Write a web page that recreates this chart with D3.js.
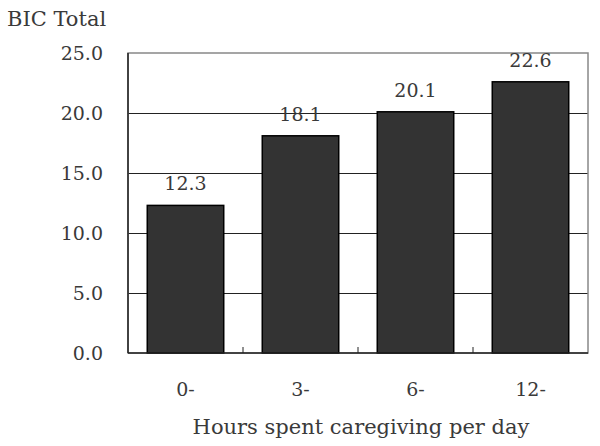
<!DOCTYPE html>
<html><head><meta charset="utf-8">
<script src="https://cdn.jsdelivr.net/npm/d3@7"></script>
<style>body{margin:0;background:#fff}text{font-family:"DejaVu Serif",serif;fill:#3a3a3a}</style>
</head><body><svg id="c" width="600" height="446"></svg>
<script>
const categories = ["0-","3-","6-","12-"];
const values = [12.3,18.1,20.1,22.6];
const yTicks = [0,5,10,15,20,25];
const yTitle = "BIC Total";
const xTitle = "Hours spent caregiving per day";

const svg = d3.select("#c");
const m = {l:128, r:588, t:53, b:353};
const fs = 19, ft = 21;
const x = d3.scaleBand().domain(categories).range([m.l,m.r]).paddingInner(0.335).paddingOuter(0.1675);
const y = d3.scaleLinear().domain([0,25]).range([m.b,m.t]);

// gridlines
svg.append("g").selectAll("line").data(yTicks.filter(d=>d>0&&d<25)).join("line")
  .attr("x1",m.l).attr("x2",m.r).attr("y1",d=>y(d)).attr("y2",d=>y(d))
  .attr("stroke","#222").attr("stroke-width",1).attr("shape-rendering","crispEdges");
// frame
svg.append("rect").attr("x",m.l).attr("y",m.t).attr("width",m.r-m.l).attr("height",m.b-m.t)
  .attr("fill","none").attr("stroke","#888").attr("stroke-width",1.5);
// bars
svg.append("g").selectAll("rect").data(values).join("rect")
  .attr("x",(d,i)=>x(categories[i])).attr("width",x.bandwidth())
  .attr("y",d=>y(d)).attr("height",d=>y(0)-y(d))
  .attr("fill","#333").attr("stroke","#000").attr("stroke-width",1.5);
// left and bottom axis lines
svg.append("line").attr("x1",m.l).attr("x2",m.l).attr("y1",m.t).attr("y2",m.b).attr("stroke","#222").attr("stroke-width",1.5);
svg.append("line").attr("x1",m.l).attr("x2",m.r).attr("y1",m.b).attr("y2",m.b).attr("stroke","#222").attr("stroke-width",1.5);
// x category ticks (inward) at band boundaries
svg.append("g").selectAll("line").data(d3.range(1,categories.length)).join("line")
  .attr("x1",i=>m.l+i*(m.r-m.l)/categories.length).attr("x2",i=>m.l+i*(m.r-m.l)/categories.length)
  .attr("y1",m.b).attr("y2",m.b-6).attr("stroke","#222");
// y tick labels
const yAxis = d3.axisLeft(y).tickValues(yTicks).tickFormat(d3.format(".1f")).tickSize(0).tickPadding(25);
const ga = svg.append("g").attr("transform",`translate(${m.l},0)`).call(yAxis);
ga.select(".domain").remove();
ga.selectAll("text").attr("font-size",fs);
// x labels
const xAxis = d3.axisBottom(x).tickSize(0).tickPadding(29.5);
const gx = svg.append("g").attr("transform",`translate(0,${m.b})`).call(xAxis);
gx.select(".domain").remove();
gx.selectAll("text").attr("font-size",fs);
// value labels
svg.append("g").selectAll("text").data(values).join("text")
  .attr("x",(d,i)=>x(categories[i])+x.bandwidth()/2).attr("y",d=>y(d)-15)
  .attr("text-anchor","middle").attr("font-size",fs).text(d=>d.toFixed(1));
// titles
svg.append("text").attr("x",7).attr("y",26).attr("font-size",ft).text(yTitle);
svg.append("text").attr("x",(m.l+m.r)/2 + 3).attr("y",434).attr("text-anchor","middle").attr("font-size",ft).text(xTitle);
</script></body></html>
